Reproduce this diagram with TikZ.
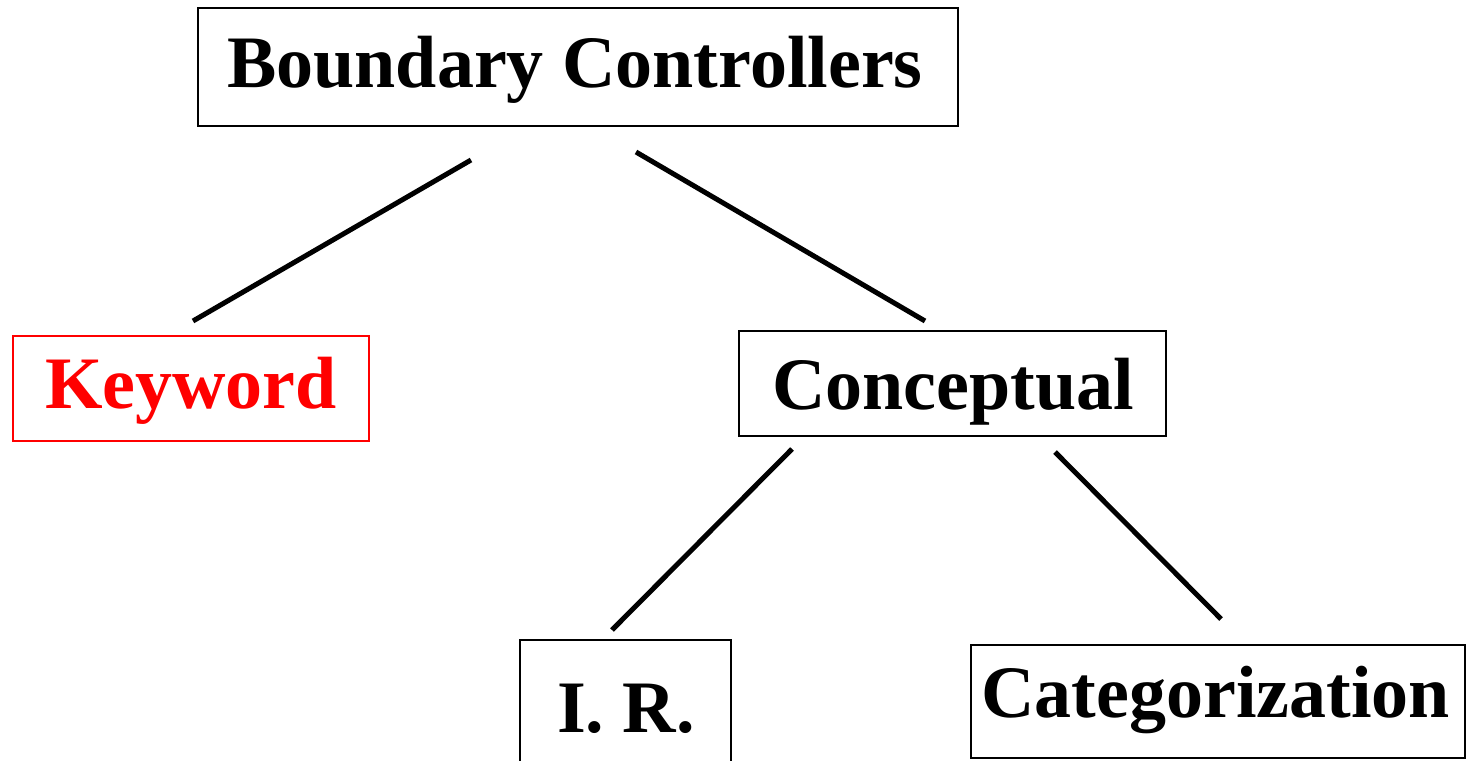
\documentclass[tikz,border=0pt]{standalone}
\usepackage{fontspec}
\setmainfont{Liberation Serif}
\begin{document}
\begin{tikzpicture}[x=1pt,y=-1pt,
  box/.style={draw=black,line width=2pt,inner sep=0pt,outer sep=0pt},
  lbl/.style={anchor=base,inner sep=0pt,font=\fontsize{74}{80}\selectfont\bfseries},
  link/.style={line width=5pt}]
  \useasboundingbox (0,0) rectangle (1469,760);
  \clip (0,0) rectangle (1469,760);

  % boxes
  \node[box,minimum width=760pt,minimum height=118pt] (bc) at (578,67) {};
  \node[box,draw=red,minimum width=356pt,minimum height=105pt] (kw) at (191,388.5) {};
  \node[box,minimum width=427pt,minimum height=105pt] (cp) at (952.5,383.5) {};
  \node[box,minimum width=211pt,minimum height=160pt] (ir) at (625.5,720) {};
  \node[box,minimum width=494pt,minimum height=113pt] (ct) at (1218,701.5) {};

  % labels
  \node[lbl] (bct) at (575,88) {Boundary Controllers};
  \node[lbl,text=red] (kwt) at (191,408) {Keyword};
  \node[lbl] (cpt) at (953,409) {Conceptual};
  \node[lbl] (irt) at (626,732) {I. R.};
  \node[lbl] (ctt) at (1215.5,717) {Categorization};

  % connector ends
  \coordinate (bc-l) at (471,160);
  \coordinate (kw-t) at (193,321);
  \coordinate (bc-r) at (636,152);
  \coordinate (cp-t) at (925,321);
  \coordinate (cp-l) at (792,449);
  \coordinate (ir-t) at (612,630);
  \coordinate (cp-r) at (1055,452);
  \coordinate (ct-t) at (1221,619);

  % connectors
  \draw[link] (bc-l) -- (kw-t);
  \draw[link] (bc-r) -- (cp-t);
  \draw[link] (cp-l) -- (ir-t);
  \draw[link] (cp-r) -- (ct-t);
\end{tikzpicture}
\end{document}
